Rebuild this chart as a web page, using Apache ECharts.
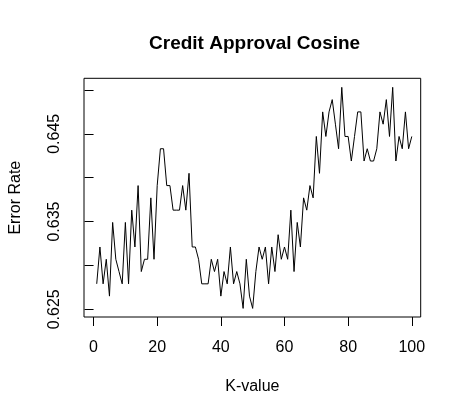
<!DOCTYPE html>
<html>
<head>
<meta charset="utf-8">
<script src="https://cdn.jsdelivr.net/npm/echarts@6/dist/echarts.min.js"></script>
<style>
html,body{margin:0;padding:0;background:#fff;}
#chart{width:465px;height:415px;}
</style>
</head>
<body>
<div id="chart"></div>
<script>
const kValues = [1,2,3,4,5,6,7,8,9,10,11,12,13,14,15,16,17,18,19,20,
  21,22,23,24,25,26,27,28,29,30,31,32,33,34,35,36,37,38,39,40,
  41,42,43,44,45,46,47,48,49,50,51,52,53,54,55,56,57,58,59,60,
  61,62,63,64,65,66,67,68,69,70,71,72,73,74,75,76,77,78,79,80,
  81,82,83,84,85,86,87,88,89,90,91,92,93,94,95,96,97,98,99,100];
const errorRate = [
  0.6279,0.6321,0.6279,0.6307,0.6265,0.6349,0.6307,0.6293,0.6279,0.6349,
  0.6279,0.6363,0.6321,0.6391,0.6293,0.6307,0.6307,0.6377,0.6307,0.6391,
  0.6433,0.6433,0.6391,0.6391,0.6363,0.6363,0.6363,0.6391,0.6363,0.6405,
  0.6321,0.6321,0.6307,0.6279,0.6279,0.6279,0.6307,0.6293,0.6307,0.6265,
  0.6293,0.6279,0.6321,0.6279,0.6293,0.6279,0.6251,0.6307,0.6265,0.6251,
  0.6293,0.6321,0.6307,0.6321,0.6279,0.6321,0.6293,0.6335,0.6307,0.6321,
  0.6307,0.6363,0.6293,0.6349,0.6321,0.6377,0.6363,0.6391,0.6377,0.6447,
  0.6405,0.6475,0.6447,0.6475,0.6489,0.6461,0.6433,0.6503,0.6447,0.6447,
  0.6419,0.6447,0.6475,0.6475,0.6419,0.6433,0.6419,0.6419,0.6433,0.6475,
  0.6461,0.6489,0.6447,0.6503,0.6419,0.6447,0.6433,0.6475,0.6433,0.6447];
const xTicks = [0,20,40,60,80,100];
const yTicks = [0.625,0.630,0.635,0.640,0.645,0.650];
const yLabels = [0.625,0.635,0.645];

const chart = echarts.init(document.getElementById('chart'), null, {renderer:'canvas'});
const font = 'Liberation Sans, Arial, sans-serif';
chart.setOption({
  animation:false,
  backgroundColor:'#ffffff',
  title:{
    text:'Credit Approval Cosine',
    left:249.6, top:29, textAlign:'center',
    textStyle:{fontFamily:font, fontSize:19, fontWeight:'bold', color:'#000'}
  },
  grid:{
    left:78.5, right:44.3, top:78.3, bottom:98,
    show:true, borderColor:'#000', borderWidth:1, backgroundColor:'transparent'
  },
  xAxis:{
    type:'value', min:-3.0, max:102.8,
    name:'K-value', nameLocation:'middle', nameGap:62,
    nameTextStyle:{fontFamily:font, fontSize:16, color:'#000'},
    axisLine:{show:false},
    axisTick:{show:true, inside:false, length:9, customValues:xTicks, lineStyle:{color:'#000', width:1}},
    axisLabel:{show:true, margin:23, customValues:xTicks, fontFamily:font, fontSize:16, color:'#000'},
    splitLine:{show:false}
  },
  yAxis:{
    type:'value', min:0.62412, max:0.65133,
    name:'Error Rate', nameLocation:'middle', nameGap:60, nameRotate:90,
    nameTextStyle:{fontFamily:font, fontSize:16, color:'#000'},
    axisLine:{show:false},
    axisTick:{show:true, inside:false, length:9, customValues:yTicks, lineStyle:{color:'#000', width:1}},
    axisLabel:{show:true, rotate:90, margin:21, customValues:yLabels, fontFamily:font, fontSize:16, color:'#000',
      formatter:function(v){return v.toFixed(3);}},
    splitLine:{show:false}
  },
  series:[{
    type:'line',
    data:kValues.map(function(k,i){return [k, errorRate[i]];}),
    showSymbol:false, symbol:'none',
    lineStyle:{color:'#000', width:1},
    silent:true
  }]
});
</script>
</body>
</html>
